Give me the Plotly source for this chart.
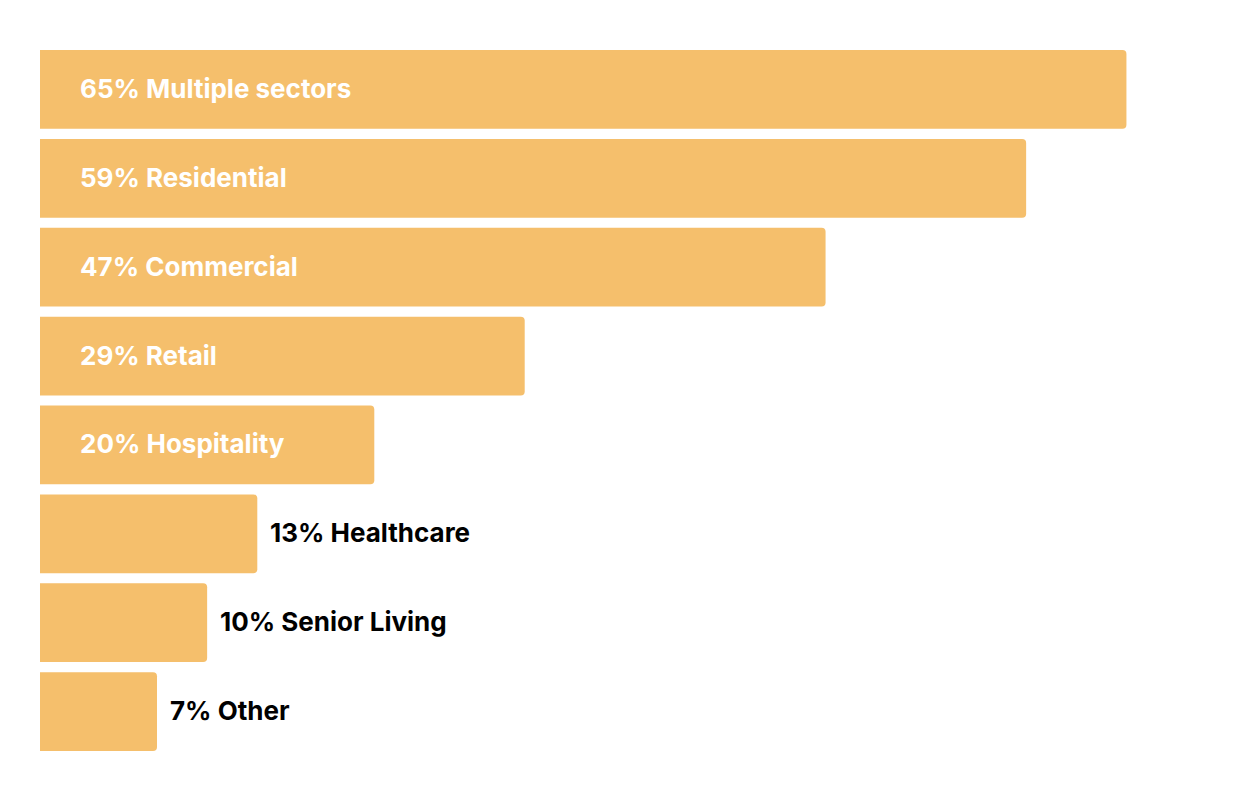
import plotly.graph_objects as go

categories = ["Multiple sectors", "Residential", "Commercial", "Retail",
              "Hospitality", "Healthcare", "Senior Living", "Other"]
values = [65, 59, 47, 29, 20, 13, 10, 7]

BAR = "#F5BF6C"
FONT = "Inter"

fig = go.Figure(go.Bar(
    x=values, y=categories, orientation="h",
    marker=dict(color=BAR, line=dict(width=0)),
    hoverinfo="skip",
))

annotations = []
for c, v in zip(categories, values):
    label = f"{v}% {c}"
    if v >= 20:
        annotations.append(dict(x=0, y=c, xref="x", yref="y", text=label,
                                showarrow=False, xanchor="left", xshift=38, yshift=1,
                                font=dict(family=FONT, size=26, color="white", weight="bold")))
    else:
        annotations.append(dict(x=v, y=c, xref="x", yref="y", text=label,
                                showarrow=False, xanchor="left", xshift=11, yshift=1,
                                font=dict(family=FONT, size=26, color="black", weight="bold")))

fig.update_layout(
    width=1250, height=800,
    margin=dict(l=32, r=48, t=37, b=52),
    paper_bgcolor="white", plot_bgcolor="white",
    bargap=0.115, barcornerradius=4,
    xaxis=dict(range=[0, 70], visible=False, fixedrange=True),
    yaxis=dict(autorange="reversed", visible=False, fixedrange=True),
    showlegend=False,
    annotations=annotations,
    font=dict(family=FONT),
)

fig.write_html("out.html")
